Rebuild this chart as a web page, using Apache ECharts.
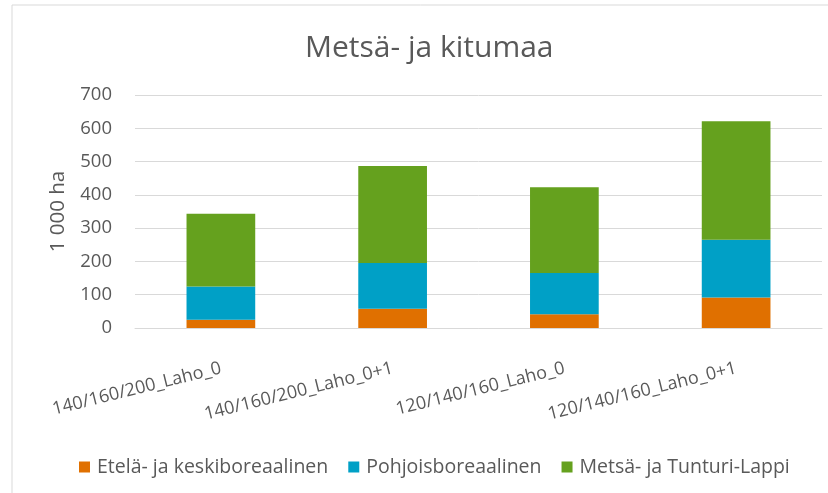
<!DOCTYPE html>
<html>
<head>
<meta charset="utf-8">
<script src="https://cdn.jsdelivr.net/npm/echarts@6/dist/echarts.min.js"></script>
<style>
  html, body { margin: 0; padding: 0; background: #fff; }
  #chart { width: 828px; height: 493px; }
</style>
</head>
<body>
<div id="chart"></div>
<script>
// categories and stacked segments (1 000 ha)
const categories = ['140/160/200_Laho_0', '140/160/200_Laho_0+1', '120/140/160_Laho_0', '120/140/160_Laho_0+1'];
const etela = [25, 58, 41, 92];
const pohjois = [100, 137, 124, 173];
const lappi = [218, 292, 258, 356];

const font = '"Open Sans", "Noto Sans", sans-serif';
const grey = '#595959';

const chart = echarts.init(document.getElementById('chart'));

chart.setOption({
  animation: false,
  textStyle: { fontFamily: font },
  color: ['#e07000', '#00a0c6', '#65a11e'],
  title: {
    text: 'Metsä- ja kitumaa',
    left: 300,
    top: 28,
    textStyle: { fontFamily: font, fontSize: 30, fontWeight: 'normal', color: grey }
  },
  graphic: [{
    type: 'rect',
    shape: { x: 12, y: 5, width: 840, height: 520 },
    style: { fill: 'none', stroke: '#d9d9d9', lineWidth: 1 },
    silent: true
  }],
  legend: {
    top: 452,
    left: 74,
    itemWidth: 11,
    itemHeight: 11,
    itemGap: 20,
    icon: 'rect',
    textStyle: { fontFamily: font, fontSize: 19.5, color: grey, padding: [0, 0, 0, 2] },
    data: ['Etelä- ja keskiboreaalinen', 'Pohjoisboreaalinen', 'Metsä- ja Tunturi-Lappi']
  },
  grid: { left: 135, right: 6, top: 95, bottom: 165, containLabel: false },
  xAxis: {
    type: 'category',
    data: categories,
    axisTick: { show: false },
    axisLine: { lineStyle: { color: '#d9d9d9' } },
    axisLabel: { rotate: 14, margin: 40, fontSize: 18, color: grey, fontFamily: font, interval: 0 }
  },
  yAxis: {
    type: 'value',
    min: 0,
    max: 700,
    interval: 100,
    name: '1 000 ha',
    nameLocation: 'middle',
    nameGap: 66,
    nameTextStyle: { fontSize: 20.5, color: grey, fontFamily: font },
    axisLine: { show: false },
    axisTick: { show: false },
    axisLabel: { margin: 23, fontSize: 18.5, color: grey, fontFamily: font },
    splitLine: { lineStyle: { color: '#d9d9d9', width: 1 } }
  },
  series: [
    { name: 'Etelä- ja keskiboreaalinen', type: 'bar', stack: 'a', barWidth: '40%', data: etela },
    { name: 'Pohjoisboreaalinen', type: 'bar', stack: 'a', barWidth: '40%', data: pohjois },
    { name: 'Metsä- ja Tunturi-Lappi', type: 'bar', stack: 'a', barWidth: '40%', data: lappi }
  ]
});
</script>
</body>
</html>
